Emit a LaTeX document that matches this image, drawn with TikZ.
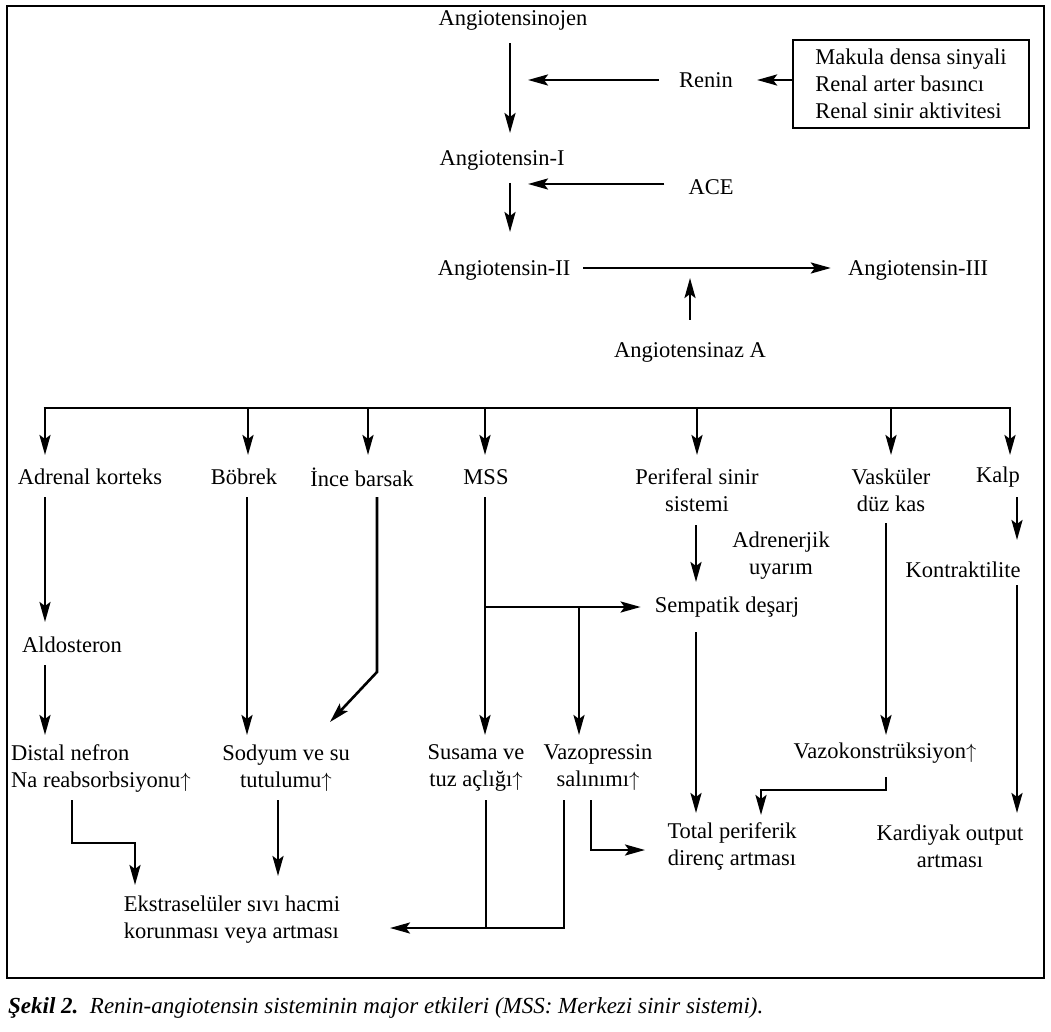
\documentclass[tikz,border=0pt]{standalone}
\usepackage{fontspec}
\setmainfont{Liberation Serif}
\usetikzlibrary{arrows.meta,calc}
\begin{document}
\begin{tikzpicture}[x=1pt,y=-1pt,
  lbl/.style={inner sep=0pt, align=center, font=\fontsize{22.5}{27}\selectfont},
  arr/.style={line width=2.6pt, -{Stealth[length=20pt,width=11pt,inset=4pt]}},
  ln/.style={line width=2.6pt}]
\useasboundingbox (0,0) rectangle (1051,1032);
\fill[white] (0,0) rectangle (1051,1032);
\draw[line width=2.8pt] (7,6) rectangle (1044,978);
% nodes
\node[lbl] (aoj) at (513,20) {Angiotensinojen};
\node[lbl] (renin) at (706,80) {Renin};
\node[lbl, draw, line width=1.3pt, minimum width=236pt, minimum height=88pt, align=left] (box) at (911,84) {Makula densa sinyali\\Renal arter basıncı\\Renal sinir aktivitesi};
\node[lbl] (ang1) at (502,160) {Angiotensin-I};
\node[lbl] (ace) at (711,187) {ACE};
\node[lbl] (ang2) at (504,270) {Angiotensin-II};
\node[lbl] (ang3) at (918,270) {Angiotensin-III};
\node[lbl] (angz) at (690,352) {Angiotensinaz A};
\node[lbl] (adr) at (90,477) {Adrenal korteks};
\node[lbl] (bob) at (244,477) {Böbrek};
\node[lbl] (ince) at (362,477) {İnce barsak};
\node[lbl] (mss) at (486,477) {MSS};
\node[lbl] (per) at (697,490) {Periferal sinir\\sistemi};
\node[lbl] (vas) at (891,490) {Vasküler\\düz kas};
\node[lbl] (kalp) at (998,477) {Kalp};
\node[lbl] (adrn) at (781,556) {Adrenerjik\\uyarım};
\node[lbl] (semp) at (727,607) {Sempatik deşarj};
\node[lbl] (kon) at (963,570) {Kontraktilite};
\node[lbl] (ald) at (72,645) {Aldosteron};
\node[lbl, align=left] (dist) at (101,768) {Distal nefron\\Na reabsorbsiyonu$\uparrow$};
\node[lbl] (sod) at (286,768) {Sodyum ve su\\tutulumu$\uparrow$};
\node[lbl] (sus) at (476,768) {Susama ve\\tuz açlığı$\uparrow$};
\node[lbl] (vaz) at (598,768) {Vazopressin\\salınımı$\uparrow$};
\node[lbl] (vk) at (885,753) {Vazokonstrüksiyon$\uparrow$};
\node[lbl] (tpd) at (732,846) {Total periferik\\direnç artması};
\node[lbl] (kard) at (950,846) {Kardiyak output\\artması};
\node[lbl, align=left] (eks) at (232,920) {Ekstraselüler sıvı hacmi\\korunması veya artması};
\node[inner sep=0pt, anchor=base west, font=\fontsize{23}{27}\selectfont\itshape] (cap) at (8,1013) {\textbf{Şekil 2.}\, Renin-angiotensin sisteminin major etkileri (MSS: Merkezi sinir sistemi).};
% helper coordinates
\coordinate (m1) at (528,80);
\coordinate (m2) at (528,184);
\coordinate (m3) at (690,278);
\coordinate (busL) at (45,408);
\coordinate (busR) at (1010,408);
\coordinate (mssJ) at (485,607);
\coordinate (mssB) at (579,607);
\coordinate (eksJ) at (486,928);
% connectors
\draw[arr] (aoj.south -| 510,0) ++(0,13) -- (510,133);
\draw[arr] ($(renin.west)+(-20,0)$) -- (m1);
\draw[arr] (box.west |- renin.east) -- ($(renin.east)+(24,0)$);
\draw[arr] ($(ace.west)+(-24,-3)$) -- (m2);
\draw[arr] (510,183) -- (510,232);
\draw[arr] ($(ang2.east)+(13,-2)$) -- ($(ang3.west)+(-17,-2)$);
\draw[arr] ($(angz.north)+(0,-22)$) -- (m3);
% bus
\draw[ln] ([xshift=-1.3pt]busL) -- ([xshift=1.3pt]busR);
\foreach \xx/\nn in {45/adr,248/bob,368/ince,485/mss,697/per,891/vas,1010/kalp}
  \draw[arr] (\xx,407) -- (\xx,455);
% lower
\draw[arr] (45,497) -- (45,622);
\draw[arr] (45,665) -- (45,735);
\draw[arr] (247,497) -- (247,735);
\draw[arr] (377,497) -- (377,672) -- (330,722);
\draw[arr] (485,497) -- (485,735);
\draw[arr] (mssJ) -- ($(semp.west)+(-14,0)$);
\draw[arr] (mssB) -- (579,735);
\draw[arr] (696,525) -- (696,582);
\draw[arr] (696,632) -- (696,813);
\draw[arr] (886,523) -- (886,735);
\draw[arr] (1017,497) -- (1017,540);
\draw[arr] (1017,585) -- (1017,813);
\draw[arr] (72,800) -- (72,843) -- (135,843) -- (135,885);
\draw[arr] (278,800) -- (278,876);
\draw[ln] (486,800) -- (eksJ);
\draw[arr] (564,800) -- (564,928) -- (390,928);
\draw[arr] (591,800) -- (591,850) -- (645,850);
\draw[arr] (886,777) -- (886,790) -- (761,790) -- (761,815);
\end{tikzpicture}
\end{document}
